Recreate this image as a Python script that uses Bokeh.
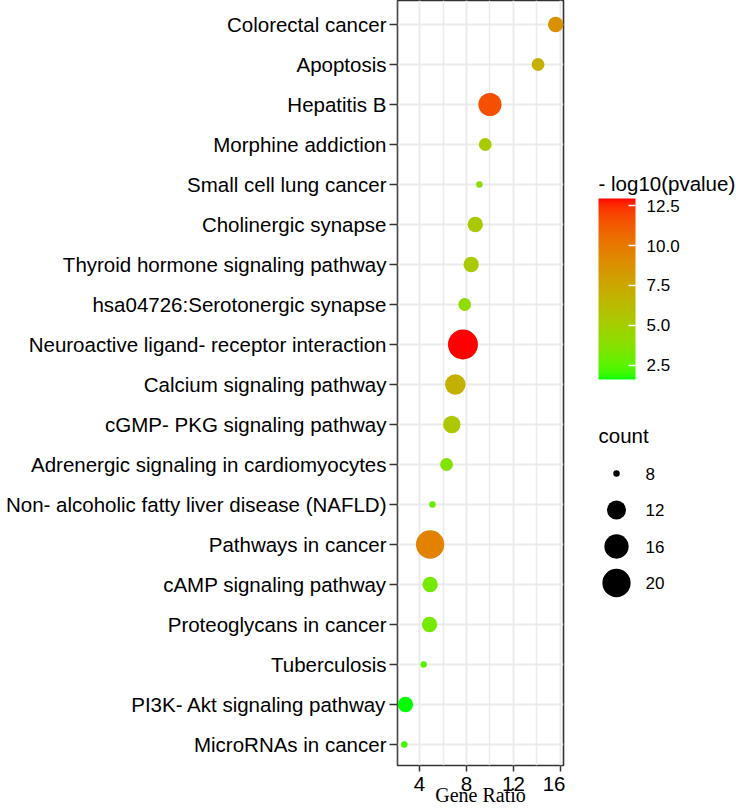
from bokeh.plotting import figure
from bokeh.layouts import row
from bokeh.models import (Range1d, FixedTicker, LinearColorMapper, ColorBar,
                          PrintfTickFormatter, Label, ColumnDataSource)
from bokeh.transform import transform
from bokeh.embed import file_html
from bokeh.resources import INLINE

# ---- data: KEGG enrichment (top row first) ----
categories = [
    "Colorectal cancer",
    "Apoptosis",
    "Hepatitis B",
    "Morphine addiction",
    "Small cell lung cancer",
    "Cholinergic synapse",
    "Thyroid hormone signaling pathway",
    "hsa04726:Serotonergic synapse",
    "Neuroactive ligand- receptor interaction",
    "Calcium signaling pathway",
    "cGMP- PKG signaling pathway",
    "Adrenergic signaling in cardiomyocytes",
    "Non- alcoholic fatty liver disease (NAFLD)",
    "Pathways in cancer",
    "cAMP signaling pathway",
    "Proteoglycans in cancer",
    "Tuberculosis",
    "PI3K- Akt signaling pathway",
    "MicroRNAs in cancer",
]
gene_ratio = [15.6, 14.1, 10.0, 9.6, 9.1, 8.75, 8.4, 7.85, 7.7, 7.05,
              6.75, 6.3, 5.1, 4.9, 4.9, 4.85, 4.35, 2.8, 2.7]
counts = [10, 9, 15, 9, 8, 10, 10, 9, 22, 13,
          11, 9, 8, 20, 10, 10, 8, 10, 8]
neg_log10_p = [8.8, 7.0, 11.6, 5.2, 4.0, 5.4, 5.3, 4.1, 12.95, 6.9,
               5.5, 3.6, 2.8, 9.6, 3.2, 3.2, 2.5, 1.6, 2.1]

x_ticks = [4, 8, 12, 16]
x_minor_ticks = [2, 6, 10, 14]
color_ticks = [2.5, 5.0, 7.5, 10.0, 12.5]
size_breaks = [8, 12, 16, 20]

FONT = "Liberation Sans"
W, H = 565, 809          # dot plot canvas
BOTTOM = 44              # room under the panel for tick labels and axis title
ROW_PX = 40              # vertical distance between pathway rows


# ---- green -> red gradient interpolated in CIELAB ----
def _to_lin(v):
    v = v / 255.0
    return v / 12.92 if v <= 0.04045 else ((v + 0.055) / 1.055) ** 2.4


def _from_lin(v):
    v = 12.92 * v if v <= 0.0031308 else 1.055 * v ** (1 / 2.4) - 0.055
    return min(max(v, 0.0), 1.0)


WHITE = (0.95047, 1.0, 1.08883)


def rgb_to_lab(rgb):
    r, g, b = (_to_lin(c) for c in rgb)
    X = 0.4124564 * r + 0.3575761 * g + 0.1804375 * b
    Y = 0.2126729 * r + 0.7151522 * g + 0.0721750 * b
    Z = 0.0193339 * r + 0.1191920 * g + 0.9503041 * b
    d = 6 / 29

    def f(t):
        return t ** (1 / 3) if t > d ** 3 else t / (3 * d * d) + 4 / 29

    fx, fy, fz = f(X / WHITE[0]), f(Y / WHITE[1]), f(Z / WHITE[2])
    return 116 * fy - 16, 500 * (fx - fy), 200 * (fy - fz)


def lab_to_hex(L, a, b):
    d = 6 / 29
    fy = (L + 16) / 116
    fx = fy + a / 500
    fz = fy - b / 200

    def finv(t):
        return t ** 3 if t > d else 3 * d * d * (t - 4 / 29)

    X, Y, Z = WHITE[0] * finv(fx), WHITE[1] * finv(fy), WHITE[2] * finv(fz)
    r = 3.2404542 * X - 1.5371385 * Y - 0.4985314 * Z
    g = -0.9692660 * X + 1.8760108 * Y + 0.0415560 * Z
    bb = 0.0556434 * X - 0.2040259 * Y + 1.0572252 * Z
    return "#%02x%02x%02x" % tuple(int(round(_from_lin(c) * 255)) for c in (r, g, bb))


lab_lo = rgb_to_lab((0, 255, 0))
lab_hi = rgb_to_lab((255, 0, 0))
palette = []
for i in range(256):
    t = i / 255
    palette.append(lab_to_hex(*[lo + (hi - lo) * t for lo, hi in zip(lab_lo, lab_hi)]))

p_lo, p_hi = min(neg_log10_p), max(neg_log10_p)
mapper = LinearColorMapper(palette=palette, low=p_lo, high=p_hi)

# ---- point size: area scaled between the smallest and largest count ----
cmin, cmax = min(counts), max(counts)


def dot_size(c):
    return 6.5 + 23.5 * ((c - cmin) / (cmax - cmin)) ** 0.5


n = len(categories)
source = ColumnDataSource(dict(
    name=categories,
    y=[n - 1 - i for i in range(n)],
    ratio=gene_ratio,
    count=counts,
    logp=neg_log10_p,
    size=[dot_size(c) for c in counts],
))

# ---- main dot plot ----
y_top = n - 1 + 0.6
y_bottom = y_top - (H - BOTTOM) / ROW_PX
p = figure(width=W, height=H, x_range=Range1d(2.12, 16.27),
           y_range=Range1d(y_bottom, y_top),
           min_border_left=397, min_border_right=2, min_border_top=0,
           min_border_bottom=BOTTOM, toolbar_location=None, output_backend="svg")
p.background_fill_color = "white"
p.border_fill_color = "white"
p.outline_line_color = "#333333"
p.outline_line_width = 1.6

p.scatter("ratio", "y", size="size", source=source,
          fill_color=transform("logp", mapper), line_color=None)

p.xaxis.ticker = FixedTicker(ticks=x_ticks, minor_ticks=x_minor_ticks)
p.yaxis.ticker = FixedTicker(ticks=list(range(n)))
p.yaxis.major_label_overrides = {n - 1 - i: name for i, name in enumerate(categories)}

for ax in (p.xaxis[0], p.yaxis[0]):
    ax.axis_line_color = None
    ax.major_tick_line_color = "#333333"
    ax.major_tick_line_width = 1.5
    ax.major_tick_in = 0
    ax.minor_tick_line_color = None
    ax.major_label_text_font = FONT
    ax.major_label_text_font_size = "20.5px"
    ax.major_label_text_color = "black"

p.yaxis.major_tick_out = 8
p.yaxis.major_label_standoff = 3
p.xaxis.major_tick_out = 6
p.xaxis.major_label_standoff = 5

p.xaxis.axis_label = "Gene Ratio"
p.xaxis.axis_label_text_font = "Liberation Serif"
p.xaxis.axis_label_text_font_size = "20px"
p.xaxis.axis_label_text_font_style = "normal"
p.xaxis.axis_label_text_color = "black"
p.xaxis.axis_label_standoff = -10

p.xgrid.grid_line_color = "#EBEBEB"
p.xgrid.grid_line_width = 2
p.xgrid.minor_grid_line_color = "#EBEBEB"
p.xgrid.minor_grid_line_width = 1.5
p.ygrid.grid_line_color = "#EBEBEB"
p.ygrid.grid_line_width = 2

# ---- legends: colour bar and point sizes ----
# The side panel shares the frame rows of the dot plot, so its y data
# units run from the frame bottom up to the canvas top.
side = figure(width=171, height=H, x_range=Range1d(0, 171), y_range=Range1d(BOTTOM, H),
              min_border=0, toolbar_location=None, output_backend="svg")
side.axis.visible = False
side.grid.visible = False
side.outline_line_color = None
side.background_fill_color = "white"
side.border_fill_color = "white"

side.add_layout(Label(x=33, y=626, text="- log10(pvalue)", text_baseline="middle",
                      text_font=FONT, text_font_size="20.5px", text_color="black"))

bar_x, bar_w, bar_bottom, bar_h = 33, 37, 430, 181
cbar = ColorBar(color_mapper=mapper, width=bar_w, height=bar_h,
                location=(bar_x, bar_bottom - BOTTOM),
                padding=0, margin=0, title=None,
                ticker=FixedTicker(ticks=color_ticks),
                formatter=PrintfTickFormatter(format="%.1f"),
                major_tick_line_color="white", major_tick_line_width=1.5,
                major_tick_in=7, major_tick_out=0, minor_tick_line_color=None,
                label_standoff=11, major_label_text_font=FONT,
                major_label_text_font_size="17px", major_label_text_color="black",
                bar_line_color=None, border_line_color=None,
                background_fill_alpha=0)
side.add_layout(cbar, "center")

# white tick marks on the left edge of the colour bar
tick_y = [bar_bottom + (v - p_lo) / (p_hi - p_lo) * bar_h for v in color_ticks]
side.segment(x0=[bar_x] * len(tick_y), y0=tick_y, x1=[bar_x + 8] * len(tick_y), y1=tick_y,
             line_color="white", line_width=1.5)

side.add_layout(Label(x=33, y=374, text="count", text_baseline="middle",
                      text_font=FONT, text_font_size="20.5px", text_color="black"))

leg_y = [336 - 36.5 * i for i in range(len(size_breaks))]
leg_src = ColumnDataSource(dict(
    x=[51] * len(size_breaks), y=leg_y,
    size=[dot_size(c) for c in size_breaks],
    tx=[80] * len(size_breaks), label=[str(c) for c in size_breaks],
))
side.scatter("x", "y", size="size", source=leg_src, fill_color="black", line_color=None)
side.text("tx", "y", text="label", source=leg_src, text_baseline="middle",
          text_font={"value": FONT}, text_font_size={"value": "17px"}, text_color="black")

layout = row(p, side)
open("out.html", "w").write(file_html(layout, INLINE))
